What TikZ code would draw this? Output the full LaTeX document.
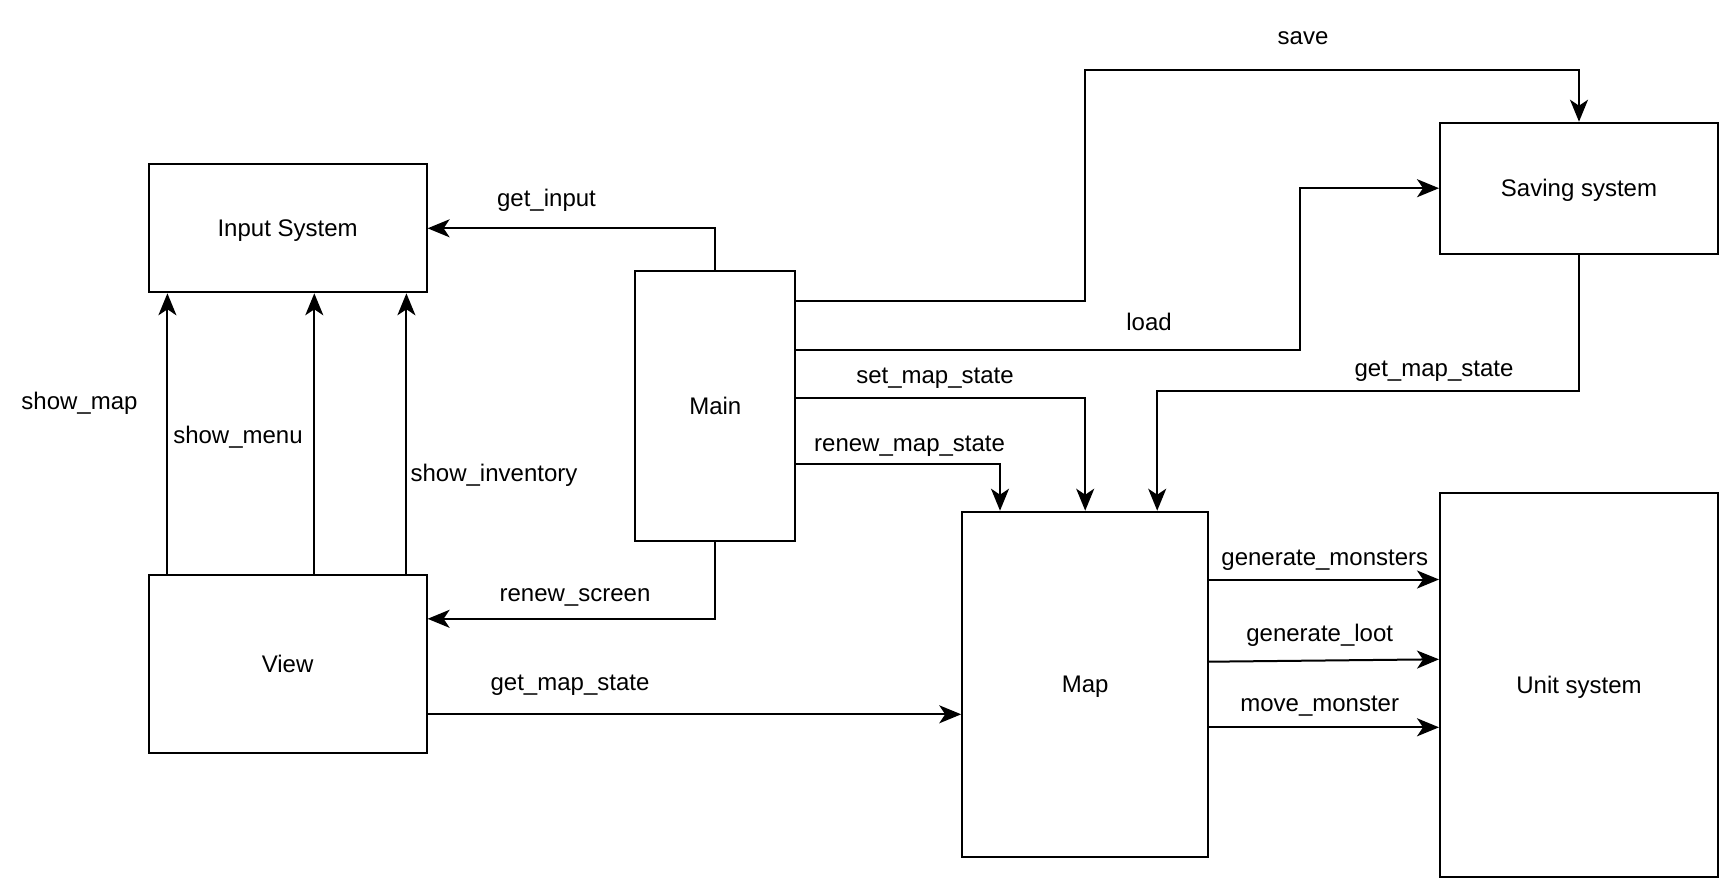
\documentclass[tikz,border=0pt]{standalone}
\usepackage{fontspec}
\setmainfont{Liberation Sans}
\usetikzlibrary{arrows.meta}
\begin{document}
\begin{tikzpicture}[x=1pt,y=-1pt,
  line width=2pt,
  box/.style={draw=black,line width=2pt,fill=white,rectangle,inner sep=0pt,
    text height=17.3pt,text depth=0pt,font=\fontsize{24}{28}\selectfont},
  lbl/.style={inner sep=0pt,anchor=base,font=\fontsize{24}{28}\selectfont},
  arr/.style={draw=black,line width=2pt,-{Stealth[length=22pt,width=18pt,inset=6pt]}}]
  % canvas
  \fill[white] (0,0) rectangle (1734,892);
  \useasboundingbox (0,0) rectangle (1734,892);

  % blocks
  \node[box,minimum width=278pt,minimum height=128pt] (inp)  at (287.6,228.3)  {Input System};
  \node[box,minimum width=160pt,minimum height=270pt] (main) at (715.3,405.5)  {Main};
  \node[box,minimum width=278pt,minimum height=178pt] (view) at (287.6,664.3)  {View};
  \node[box,minimum width=278pt,minimum height=131pt] (save) at (1579,188.2)   {Saving system};
  \node[box,minimum width=246pt,minimum height=345pt] (map)  at (1085.2,684.2) {Map};
  \node[box,minimum width=278pt,minimum height=384pt] (unit) at (1579,684.7)   {Unit system};

  % Main -> Input System / View
  \draw[arr] (main.north) |- (inp.east);
  \draw[arr] (main.south) |- (view.east |- 0,618.8);

  % View -> Input System
  \draw[arr] (view.north -| 167.4,0) -- (inp.south -| 167.4,0);
  \draw[arr] (view.north -| 314.3,0) -- (inp.south -| 314.3,0);
  \draw[arr] (view.north -| 406.4,0) -- (inp.south -| 406.4,0);

  % View -> Map
  \draw[arr] (view.east |- 0,714.3) -- (map.west |- 0,714.3);

  % Main -> Saving system
  \draw[arr] (main.east |- 0,301) -| (1085.4,69.6) -| (save.north);
  \draw[arr] (main.east |- 0,350) -| (1300,188.2) -- (save.west);

  % Main -> Map
  \draw[arr] (main.east |- 0,398) -| (map.north);
  \draw[arr] (main.east |- 0,464.3) -| (map.north -| 1000,0);

  % Saving system -> Map
  \draw[arr] (save.south) |- (1157.2,391) -- (map.north -| 1157.2,0);

  % Map -> Unit system
  \draw[arr] (map.east |- 0,579.5) -- (unit.west |- 0,579.5);
  \draw[arr] (map.east |- 0,661.7) -- (unit.west |- 0,659.3);
  \draw[arr] (map.east |- 0,727.3) -- (unit.west |- 0,727.3);

  % connector labels (placed by baseline)
  \node[lbl] (lsave)  at (1303,44.3)    {save};
  \node[lbl] (lin)    at (546.5,206)    {get\_input};
  \node[lbl] (lload)  at (1149,330)     {load};
  \node[lbl] (lset)   at (935,383.3)    {set\_map\_state};
  \node[lbl] (lgms)   at (1434,376)     {get\_map\_state};
  \node[lbl] (lren)   at (909.6,451.7)  {renew\_map\_state};
  \node[lbl] (lmap)   at (79.5,409.3)   {show\_map};
  \node[lbl] (lmenu)  at (238,443.3)    {show\_menu};
  \node[lbl] (linv)   at (494,481.7)    {show\_inventory};
  \node[lbl] (lscr)   at (575,601.7)    {renew\_screen};
  \node[lbl] (lgmv)   at (570,690.7)    {get\_map\_state};
  \node[lbl] (lgmon)  at (1324.8,565)   {generate\_monsters};
  \node[lbl] (lloot)  at (1319.7,641.7) {generate\_loot};
  \node[lbl] (lmove)  at (1319.7,711.7) {move\_monster};
\end{tikzpicture}
\end{document}
